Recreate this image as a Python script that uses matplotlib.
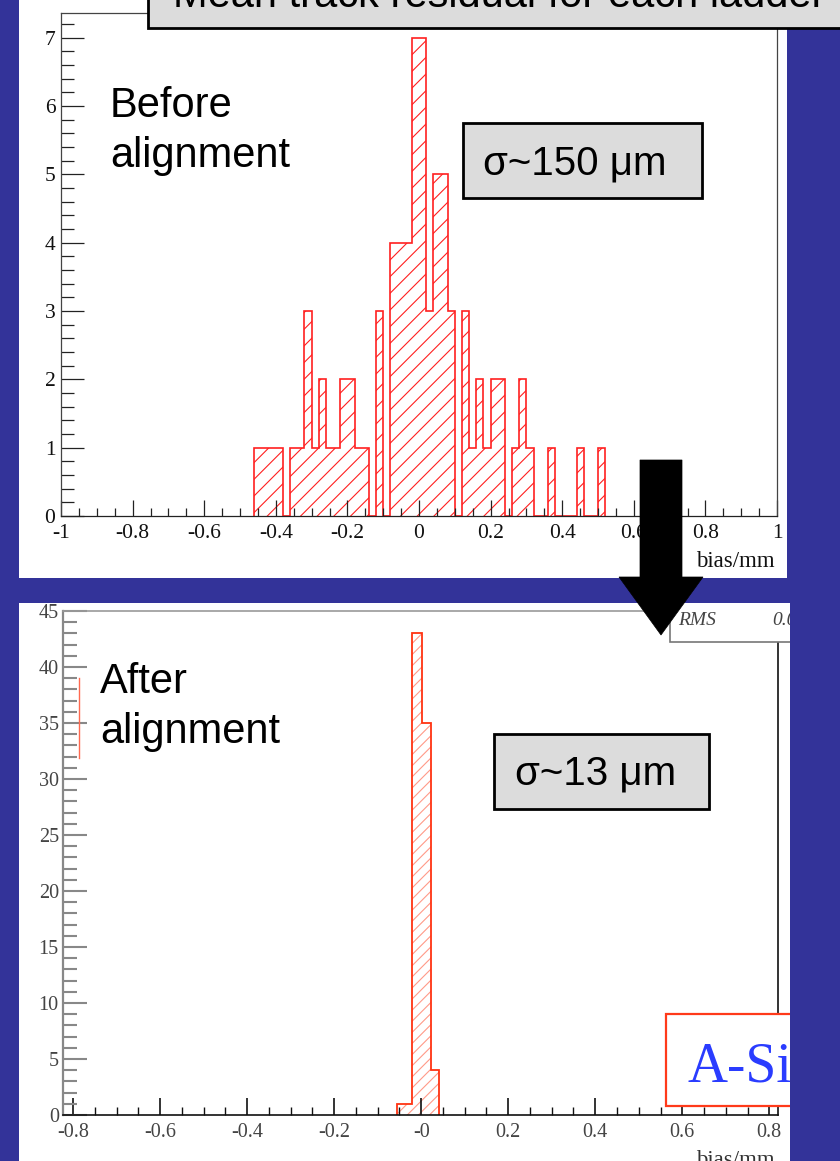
import numpy as np
import matplotlib
matplotlib.use("Agg")
import matplotlib.pyplot as plt
from matplotlib.patches import Rectangle, Polygon
from matplotlib.lines import Line2D
from matplotlib.ticker import MultipleLocator

plt.rcParams['font.family'] = ['Liberation Serif', 'DejaVu Serif']
plt.rcParams['hatch.linewidth'] = 0.8

W, H = 840, 1161
BLUE = '#333399'

# before alignment: 0.02 mm bins starting at -0.46
before_lo = -0.46
before_bin = 0.02
before_counts = [1, 1, 1, 1, 0, 1, 1, 3, 1, 2, 1, 1, 2, 2, 1, 1, 0, 3, 0,
                 4, 4, 4, 7, 7, 3, 5, 5, 3, 0, 3, 1, 2, 1, 2, 2, 0, 1, 2, 1,
                 0, 0, 1, 0, 0, 0, 1, 0, 0, 1]

# after alignment
after_edges = [-0.056, -0.022, 0.002, 0.022, 0.041]
after_counts = [1, 43, 35, 4]

top_xticks = [-1, -0.8, -0.6, -0.4, -0.2, 0, 0.2, 0.4, 0.6, 0.8, 1]
top_xticklabels = ['-1', '-0.8', '-0.6', '-0.4', '-0.2', '0', '0.2', '0.4', '0.6', '0.8', '1']
top_yticks = [0, 1, 2, 3, 4, 5, 6, 7]
bot_xticks = [-0.8, -0.6, -0.4, -0.2, 0, 0.2, 0.4, 0.6, 0.8]
bot_xticklabels = ['-0.8', '-0.6', '-0.4', '-0.2', '-0', '0.2', '0.4', '0.6', '0.8']
bot_yticks = [0, 5, 10, 15, 20, 25, 30, 35, 40, 45]

fig = plt.figure(figsize=(W / 100, H / 100), dpi=100, facecolor=BLUE)


def fx(x):
    return x / W


def fy(y):
    return 1 - y / H


def box(x0, y0, x1, y1, **kw):
    r = Rectangle((fx(x0), fy(y1)), (x1 - x0) / W, (y1 - y0) / H,
                  transform=fig.transFigure, **kw)
    fig.add_artist(r)
    return r


def axes_px(x0, y0, x1, y1):
    return fig.add_axes([fx(x0), fy(y1), (x1 - x0) / W, (y1 - y0) / H])


# white panels
top_panel = box(19, 0, 787, 578, facecolor='white', edgecolor='none', zorder=-5)
bot_panel = box(19, 603, 790, 1161, facecolor='white', edgecolor='none', zorder=-5)

# ---- top histogram ----
ax1 = axes_px(61, 13, 777, 516)
ax1.set_facecolor('none')
edges1 = before_lo + before_bin * np.arange(len(before_counts) + 1)
ax1.stairs(before_counts, edges1, fill=True, hatch='//', facecolor='none',
           edgecolor='#ff2020', linewidth=1.2)
ax1.set_xlim(-1, 1)
ax1.set_ylim(0, 7.36)
ax1.set_xticks(top_xticks)
ax1.set_xticklabels(top_xticklabels)
ax1.set_yticks(top_yticks)
ax1.xaxis.set_minor_locator(MultipleLocator(0.05))
ax1.yaxis.set_minor_locator(MultipleLocator(0.2))
ax1.tick_params(axis='both', which='both', direction='in', color='#222',
                width=0.9, labelsize=15.5, labelcolor='#111')
ax1.tick_params(axis='x', which='major', length=11.5, pad=6)
ax1.tick_params(axis='x', which='minor', length=5.8)
ax1.tick_params(axis='y', which='major', length=16.5, pad=4)
ax1.tick_params(axis='y', which='minor', length=9.4)
for s in ax1.spines.values():
    s.set_color('#444')
    s.set_linewidth(0.9)
ax1.spines['bottom'].set_color('#222')

fig.text(fx(775), fy(567), 'bias/mm', ha='right', va='baseline', fontsize=16.5, color='#111')

# ---- bottom histogram ----
ax2 = axes_px(63, 611, 778, 1115)
ax2.set_facecolor('none')
ax2.stairs(after_counts, after_edges, fill=True, hatch='///', facecolor='none',
           edgecolor='#ff9a88', linewidth=0)
ax2.stairs(after_counts, after_edges, fill=False, edgecolor='#ff3311', linewidth=1.3)
ax2.set_xlim(-0.823, 0.82)
ax2.set_ylim(0, 45)
ax2.set_xticks(bot_xticks)
ax2.set_xticklabels(bot_xticklabels)
ax2.set_yticks(bot_yticks)
ax2.xaxis.set_minor_locator(MultipleLocator(0.05))
ax2.yaxis.set_minor_locator(MultipleLocator(1))
ax2.tick_params(axis='both', which='both', direction='in', labelsize=14.5, labelcolor='#444')
ax2.tick_params(axis='x', which='major', length=12, width=1.2, color='#111', pad=6)
ax2.tick_params(axis='x', which='minor', length=5.8, width=1.0, color='#111')
ax2.tick_params(axis='y', which='major', length=17, width=1.5, color='#888', pad=3)
ax2.tick_params(axis='y', which='minor', length=10, width=1.5, color='#888')
ax2.spines['left'].set_color('#888')
ax2.spines['left'].set_linewidth(1.6)
ax2.spines['top'].set_color('#999')
ax2.spines['top'].set_linewidth(1.2)
ax2.spines['bottom'].set_color('#111')
ax2.spines['bottom'].set_linewidth(1.2)
ax2.spines['right'].set_color('#111')
ax2.spines['right'].set_linewidth(1.2)

t = fig.text(fx(775), fy(1166), 'bias/mm', ha='right', va='baseline', fontsize=16.5, color='#333')

# small red mark at the left of the lower frame
fig.add_artist(Line2D([fx(79), fx(79)], [fy(678), fy(758)], color='#ff6a50',
                      linewidth=1.0, transform=fig.transFigure))

# stat box (cut by the page edge)
rms = box(670, 560, 830, 642, facecolor='white', edgecolor='#777', linewidth=1.2, zorder=2)
rms.set_clip_path(bot_panel)
for txt, x in [('RMS', 678), ('0.0136', 772)]:
    tt = fig.text(fx(x), fy(625), txt, ha='left', va='baseline', fontsize=14,
                  style='italic', color='#444', zorder=3)
    tt.set_clip_path(bot_panel)

# label box
asi = box(666, 1014, 860, 1106, facecolor='white', edgecolor='#ff3a1a', linewidth=1.6, zorder=2)
asi.set_clip_path(bot_panel)
tt = fig.text(fx(687), fy(1081), 'A-Si', ha='left', va='baseline', fontsize=40,
              color='#2a3cff', zorder=3)
tt.set_clip_path(bot_panel)

# title box
box(148, -10, 850, 28, facecolor='#dcdcdc', edgecolor='black', linewidth=2, zorder=4)
fig.text(fx(173), fy(7), 'Mean track residual for each ladder', ha='left', va='baseline',
         fontsize=30, family='Liberation Sans', color='black', zorder=5)

# sigma boxes
box(463, 123, 702, 198, facecolor='#dcdcdc', edgecolor='black', linewidth=2, zorder=4)
fig.text(fx(483), fy(175), 'σ~150 μm', ha='left', va='baseline', fontsize=29,
         family='Liberation Sans', color='black', zorder=5)
box(494, 734, 709, 809, facecolor='#dcdcdc', edgecolor='black', linewidth=2, zorder=4)
fig.text(fx(515), fy(785), 'σ~13 μm', ha='left', va='baseline', fontsize=29,
         family='Liberation Sans', color='black', zorder=5)

# panel captions
for txt, x, y in [('Before', 110, 117), ('alignment', 110, 167),
                  ('After', 100, 693), ('alignment', 100, 743)]:
    fig.text(fx(x), fy(y), txt, ha='left', va='baseline', fontsize=30,
             family='Liberation Sans', color='black', zorder=5)

# big arrow between the panels
arrow_px = [(640, 460), (682, 460), (682, 577), (703, 577), (661, 635), (619, 577), (640, 577)]
fig.add_artist(Polygon([(fx(x), fy(y)) for x, y in arrow_px], closed=True,
                       facecolor='black', edgecolor='black', linewidth=0.5,
                       transform=fig.transFigure, zorder=6))

fig.savefig('out.png', dpi=100, facecolor=BLUE)
